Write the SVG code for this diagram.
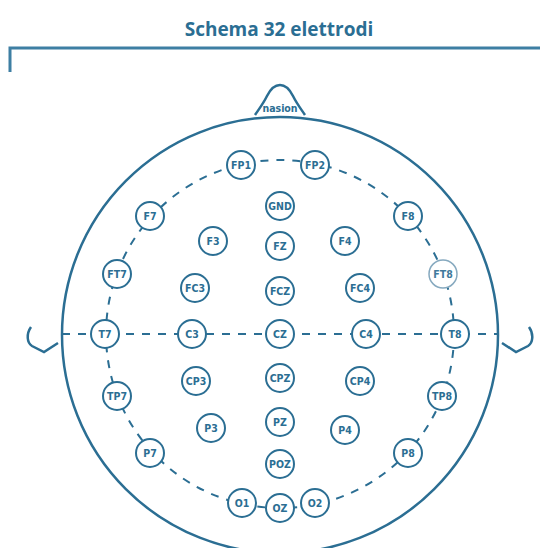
<svg xmlns="http://www.w3.org/2000/svg" width="540" height="548" viewBox="0 0 540 548">
  <style>
    .title { font-family: "Open Sans", "DejaVu Sans", sans-serif; font-weight: 700; font-size: 19px; fill: #2b6e93; }
    .head { fill: none; stroke: #2b6e93; stroke-width: 2.5; }
    .guide { fill: none; stroke: #2b6e93; stroke-width: 2; stroke-dasharray: 8 8; }
    .lbl { font-family: "DejaVu Sans Condensed", "DejaVu Sans", sans-serif; font-stretch: condensed; font-weight: 700; font-size: 10.5px; fill: #2b6e93; text-anchor: middle; }
    .el circle { fill: #ffffff; stroke: #2b6e93; stroke-width: 2; }
    .el text { font-family: "DejaVu Sans Condensed", "DejaVu Sans", sans-serif; font-stretch: condensed; font-weight: 700; font-size: 10.5px; fill: #2b6e93; text-anchor: middle; }
    .el.faint circle { stroke: #86a9bf; stroke-width: 1.5; }
    .el.faint text { fill: #3f7a9c; }
    .frame { fill: none; stroke: #3e7fa3; stroke-width: 3; }
  </style>

  <!-- heading -->
  <text class="title" x="279" y="36" text-anchor="middle">Schema 32 elettrodi</text>
  <path class="frame" d="M10 72 V48 H540"/>

  <!-- head outline, nose and ears -->
  <g id="head">
    <circle class="head" cx="280" cy="335" r="218"/>
    <path class="head" d="M255 115 C259 109 263 104 267 96 C271 88 275 85 280 85 C285 85 289 88 293 96 C297 104 301 109 305 115"/>
    <path class="head" d="M31 327 C26 334 27 343 32 346 L44 352 L58 343"/>
    <path class="head" d="M529 327 C534 334 533 343 528 346 L516 352 L502 343"/>
    <text class="lbl" x="280" y="112">nasion</text>
  </g>

  <!-- dashed guide lines -->
  <g id="connectors">
    <circle class="guide" cx="280" cy="334" r="174"/>
    <line class="guide" x1="62" y1="334" x2="498" y2="334"/>
  </g>

  <!-- electrodes -->
  <g id="FP1" class="el"><circle cx="241" cy="165" r="14"/><text x="241" y="169">FP1</text></g>
  <g id="FP2" class="el"><circle cx="315" cy="165" r="14"/><text x="315" y="169">FP2</text></g>
  <g id="F7" class="el"><circle cx="150" cy="216" r="14"/><text x="150" y="220">F7</text></g>
  <g id="F8" class="el"><circle cx="408" cy="216" r="14"/><text x="408" y="220">F8</text></g>
  <g id="FT7" class="el"><circle cx="117" cy="274" r="14"/><text x="117" y="278">FT7</text></g>
  <g id="FT8" class="el faint"><circle cx="443" cy="274" r="14"/><text x="443" y="278">FT8</text></g>
  <g id="T7" class="el"><circle cx="105" cy="334" r="14"/><text x="105" y="338">T7</text></g>
  <g id="T8" class="el"><circle cx="455" cy="334" r="14"/><text x="455" y="338">T8</text></g>
  <g id="TP7" class="el"><circle cx="117" cy="396" r="14"/><text x="117" y="400">TP7</text></g>
  <g id="TP8" class="el"><circle cx="442" cy="396" r="14"/><text x="442" y="400">TP8</text></g>
  <g id="P7" class="el"><circle cx="150" cy="453" r="14"/><text x="150" y="457">P7</text></g>
  <g id="P8" class="el"><circle cx="408" cy="453" r="14"/><text x="408" y="457">P8</text></g>
  <g id="O1" class="el"><circle cx="242" cy="503" r="14"/><text x="242" y="507">O1</text></g>
  <g id="OZ" class="el"><circle cx="280" cy="508" r="14"/><text x="280" y="512">OZ</text></g>
  <g id="O2" class="el"><circle cx="315" cy="503" r="14"/><text x="315" y="507">O2</text></g>

  <g id="GND" class="el"><circle cx="280" cy="206" r="14"/><text x="280" y="210">GND</text></g>
  <g id="F3" class="el"><circle cx="213" cy="241" r="14"/><text x="213" y="245">F3</text></g>
  <g id="FZ" class="el"><circle cx="280" cy="246" r="14"/><text x="280" y="250">FZ</text></g>
  <g id="F4" class="el"><circle cx="345" cy="241" r="14"/><text x="345" y="245">F4</text></g>
  <g id="FC3" class="el"><circle cx="195" cy="288" r="14"/><text x="195" y="292">FC3</text></g>
  <g id="FCZ" class="el"><circle cx="280" cy="291" r="14"/><text x="280" y="295">FCZ</text></g>
  <g id="FC4" class="el"><circle cx="360" cy="288" r="14"/><text x="360" y="292">FC4</text></g>
  <g id="C3" class="el"><circle cx="192" cy="334" r="14"/><text x="192" y="338">C3</text></g>
  <g id="CZ" class="el"><circle cx="280" cy="334" r="14"/><text x="280" y="338">CZ</text></g>
  <g id="C4" class="el"><circle cx="366" cy="334" r="14"/><text x="366" y="338">C4</text></g>
  <g id="CP3" class="el"><circle cx="196" cy="381" r="14"/><text x="196" y="385">CP3</text></g>
  <g id="CPZ" class="el"><circle cx="280" cy="378" r="14"/><text x="280" y="382">CPZ</text></g>
  <g id="CP4" class="el"><circle cx="360" cy="381" r="14"/><text x="360" y="385">CP4</text></g>
  <g id="P3" class="el"><circle cx="211" cy="428" r="14"/><text x="211" y="432">P3</text></g>
  <g id="PZ" class="el"><circle cx="280" cy="422" r="14"/><text x="280" y="426">PZ</text></g>
  <g id="P4" class="el"><circle cx="345" cy="430" r="14"/><text x="345" y="434">P4</text></g>
  <g id="POZ" class="el"><circle cx="280" cy="464" r="14"/><text x="280" y="468">POZ</text></g>
</svg>
